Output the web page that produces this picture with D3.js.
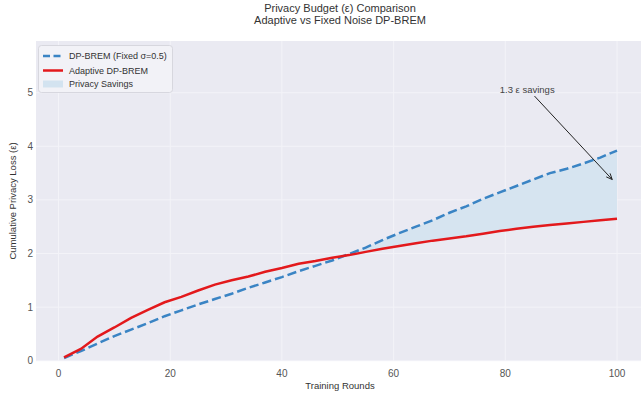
<!DOCTYPE html>
<html><head><meta charset="utf-8">
<script src="https://cdn.jsdelivr.net/npm/d3@7"></script>
<style>body{margin:0;background:#fff}svg{display:block;font-family:"Liberation Sans",Arial,sans-serif}</style>
</head><body><svg id="c" width="641" height="396"></svg>
<script>
const rounds = [1,4,7,10,13,16,19,22,25,28,31,34,37,40,43,46,49,52,55,58,61,64,67,70,73,76,79,82,85,88,91,94,97,100];
const fixedLoss = [0.05,0.18,0.32,0.46,0.58,0.70,0.83,0.94,1.05,1.15,1.25,1.36,1.46,1.56,1.67,1.77,1.87,1.99,2.11,2.25,2.38,2.50,2.62,2.76,2.88,3.02,3.14,3.26,3.38,3.50,3.58,3.68,3.79,3.92];
const adaptiveLoss = [0.06,0.22,0.45,0.62,0.80,0.95,1.09,1.19,1.31,1.42,1.50,1.57,1.66,1.73,1.81,1.86,1.92,1.97,2.03,2.09,2.14,2.19,2.24,2.28,2.32,2.37,2.42,2.46,2.50,2.53,2.56,2.59,2.62,2.65];
const xTicks = [0,20,40,60,80,100];
const yTicks = [0,1,2,3,4,5];
const titleLines = ["Privacy Budget (ε) Comparison","Adaptive vs Fixed Noise DP-BREM"];
const legendLabels = ["DP-BREM (Fixed σ=0.5)","Adaptive DP-BREM","Privacy Savings"];
const annotationText = "1.3 ε savings";

const svg = d3.select("#c");
const plot = {l:36, r:641, t:41, b:361};
const x = d3.scaleLinear().domain([0,100]).range([58.5,617]);
const y = d3.scaleLinear().domain([0,5]).range([360.7,92.7]);
const blue = "#3a84c4", red = "#e3191c";

svg.append("rect").attr("x",plot.l).attr("y",plot.t).attr("width",plot.r-plot.l).attr("height",plot.b-plot.t).attr("fill","#eaeaf2");
const g = svg.append("g");
g.selectAll(".gx").data(xTicks).join("line").attr("x1",d=>x(d)).attr("x2",d=>x(d)).attr("y1",plot.t).attr("y2",plot.b).attr("stroke","#f3f3f8").attr("stroke-width",1);
g.selectAll(".gy").data(yTicks).join("line").attr("y1",d=>y(d)).attr("y2",d=>y(d)).attr("x1",plot.l).attr("x2",plot.r).attr("stroke","#f3f3f8").attr("stroke-width",1);

// tick labels
svg.selectAll(".xt").data(xTicks).join("text").attr("x",d=>x(d)).attr("y",377).attr("text-anchor","middle").attr("font-size",10).attr("fill","#555").text(d=>d);
svg.selectAll(".yt").data(yTicks).join("text").attr("x",33).attr("y",d=>y(d)+3.5).attr("text-anchor","end").attr("font-size",10).attr("fill","#555").text(d=>d);

// fill between where fixed > adaptive
const data = rounds.map((r,i)=>({r, f:fixedLoss[i], a:adaptiveLoss[i]}));
const area = d3.area().defined(d=>d.f>=d.a).x(d=>x(d.r)).y0(d=>y(d.a)).y1(d=>y(d.f));
let fillData = [];
for (let i=0;i<data.length;i++){
  const d=data[i];
  if (i>0){const p=data[i-1]; const dp=p.f-p.a, dc=d.f-d.a;
    if ((dp<0&&dc>=0)||(dp>=0&&dc<0)){const t=dp/(dp-dc); const r=p.r+t*(d.r-p.r); const v=p.a+t*(d.a-p.a); fillData.push({r,f:v,a:v});}}
  fillData.push(d);
}
svg.append("path").datum(fillData).attr("d",area).attr("fill","#d6e4f0");

const lineF = d3.line().x(d=>x(d.r)).y(d=>y(d.f));
const lineA = d3.line().x(d=>x(d.r)).y(d=>y(d.a));
svg.append("path").datum(data).attr("d",lineF).attr("fill","none").attr("stroke",blue).attr("stroke-width",2.5).attr("stroke-dasharray","9.25,4");
svg.append("path").datum(data).attr("d",lineA).attr("fill","none").attr("stroke",red).attr("stroke-width",2.5);

// annotation
const last = data[data.length-1];
const tx = x(79), ty = y(5);
svg.append("text").attr("x",tx).attr("y",ty).attr("font-size",9.5).attr("fill","#444").text(annotationText);
const cx = 527, cy = 88;
const ex = x(100), ey = y((last.f+last.a)/2);
const dx = ex-cx, dy = ey-cy, L = Math.hypot(dx,dy), ux=dx/L, uy=dy/L;
const sx = cx+ux*11, sy = cy+uy*11, fx = ex-ux*7, fy = ey-uy*7;
svg.append("line").attr("x1",sx).attr("y1",sy).attr("x2",fx).attr("y2",fy).attr("stroke","#222").attr("stroke-width",1);
const ah = 6, aw = 2.6;
const p1 = [fx-ux*ah - uy*aw, fy-uy*ah + ux*aw], p2 = [fx-ux*ah + uy*aw, fy-uy*ah - ux*aw];
svg.append("path").attr("d",`M${p1[0]},${p1[1]}L${fx},${fy}L${p2[0]},${p2[1]}`).attr("fill","none").attr("stroke","#222").attr("stroke-width",1);

// legend
const lg = svg.append("g");
lg.append("rect").attr("x",38.5).attr("y",45.5).attr("width",134).attr("height",47).attr("rx",3).attr("fill","#f2f2f7").attr("stroke","#d0d0d8").attr("stroke-width",0.8);
const ly = [56,70.5,84];
lg.append("line").attr("x1",43).attr("x2",63).attr("y1",ly[0]).attr("y2",ly[0]).attr("stroke",blue).attr("stroke-width",2.5).attr("stroke-dasharray","7,3.5");
lg.append("line").attr("x1",43).attr("x2",63).attr("y1",ly[1]).attr("y2",ly[1]).attr("stroke",red).attr("stroke-width",2.5);
lg.append("rect").attr("x",43).attr("y",ly[2]-3.5).attr("width",20).attr("height",7).attr("fill","#d3e3f0");
lg.selectAll(".lt").data(legendLabels).join("text").attr("x",69).attr("y",(d,i)=>ly[i]+3.3).attr("font-size",9).attr("fill","#333").text(d=>d);

// titles
svg.selectAll(".tt").data(titleLines).join("text").attr("x",340).attr("y",(d,i)=>12+i*12).attr("text-anchor","middle").attr("font-size",11).attr("fill","#333").text(d=>d);
svg.append("text").attr("x",340).attr("y",389).attr("text-anchor","middle").attr("font-size",9.5).attr("fill","#333").text("Training Rounds");
svg.append("text").attr("transform","translate(16,201) rotate(-90)").attr("text-anchor","middle").attr("font-size",9.5).attr("fill","#333").text("Cumulative Privacy Loss (ε)");
</script></body></html>
